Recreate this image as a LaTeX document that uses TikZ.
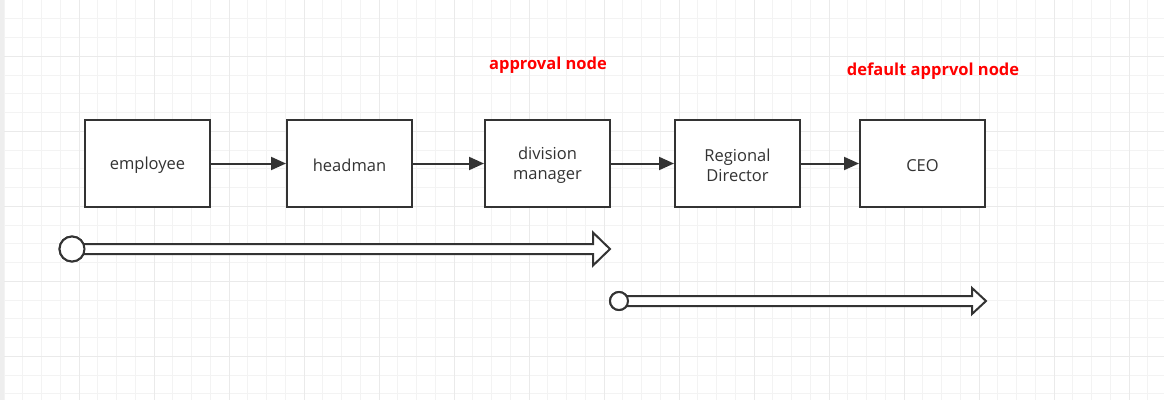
\documentclass[tikz,border=0pt]{standalone}
\usepackage{fontspec}
\setmainfont{Open Sans}
\usetikzlibrary{arrows.meta,calc}
\definecolor{ink}{HTML}{333333}
\definecolor{gminor}{HTML}{F3F3F3}
\definecolor{gmajor}{HTML}{EAEAEA}
\definecolor{strip}{HTML}{EEEEEE}
\definecolor{redlbl}{HTML}{FF0000}
\begin{document}
\begin{tikzpicture}[x=1pt,y=-1pt,
  minorline/.style={gminor,line width=1pt},
  majorline/.style={gmajor,line width=1pt},
  stepbox/.style={draw=ink,fill=white,line width=2pt,minimum width=125pt,minimum height=87pt,inner sep=0pt},
  boxtext/.style={text=ink,align=center,font=\fontsize{16.5}{20}\selectfont,yshift=-2pt},
  flow/.style={ink,line width=2pt,-{Triangle[length=15pt,width=13pt]}},
  redlabel/.style={text=redlbl,font=\bfseries\fontsize{16.5}{18}\selectfont,inner sep=0pt},
  hollow/.style={draw=ink,fill=white,line width=2pt,line join=miter},
  startdot/.style={circle,draw=ink,fill=white,line width=2pt,inner sep=0pt}]
\useasboundingbox (0,0) rectangle (1164,400);
\fill[white] (0,0) rectangle (1164,400);
% grid
\foreach \i in {0,...,62} \draw[minorline] ({4+18.75*\i},0) -- ({4+18.75*\i},400);
\foreach \j in {1,...,21} \draw[minorline] (0,{18.75*\j}) -- (1164,{18.75*\j});
\foreach \i in {1,...,15} \draw[majorline] ({4+75*\i},0) -- ({4+75*\i},400);
\foreach \j in {0,...,4} \draw[majorline] (0,{56.25+75*\j}) -- (1164,{56.25+75*\j});
\fill[strip] (0,0) rectangle (4,400);
% boxes
\node[stepbox,label={[boxtext]center:employee}] (emp) at (147.5,163.5) {};
\node[stepbox,label={[boxtext]center:headman}] (head) at (349.5,163.5) {};
\node[stepbox,label={[boxtext]center:division\\manager}] (div) at (547.5,163.5) {};
\node[stepbox,label={[boxtext]center:Regional\\Director}] (reg) at (737.5,163.5) {};
\node[stepbox,label={[boxtext]center:CEO}] (ceo) at (922.5,163.5) {};
\draw[flow] (emp) -- (head);
\draw[flow] (head) -- (div);
\draw[flow] (div) -- (reg);
\draw[flow] (reg) -- (ceo);
% labels
\node[redlabel] (lbl1) at (548,65) {approval node};
\node[redlabel] (lbl2) at (933,71) {default apprvol node};
% hollow arrow 1
\coordinate (t1) at (610,249);
\node[startdot,minimum size=25pt] (s1) at (72,249) {};
\draw[hollow] ($(s1.center)+(0,-5)$) -- ($(t1)+(-17,-5)$) -- ($(t1)+(-17,-16.5)$) -- (t1)
  -- ($(t1)+(-17,16.5)$) -- ($(t1)+(-17,5)$) -- ($(s1.center)+(0,5)$);
\node[startdot,minimum size=25pt] at (s1.center) {};
% hollow arrow 2
\coordinate (t2) at (986,301);
\node[startdot,minimum size=18pt] (s2) at (619,301) {};
\draw[hollow] ($(s2.center)+(0,-5)$) -- ($(t2)+(-14,-5)$) -- ($(t2)+(-14,-13)$) -- (t2)
  -- ($(t2)+(-14,13)$) -- ($(t2)+(-14,5)$) -- ($(s2.center)+(0,5)$);
\node[startdot,minimum size=18pt] at (s2.center) {};
\end{tikzpicture}
\end{document}
